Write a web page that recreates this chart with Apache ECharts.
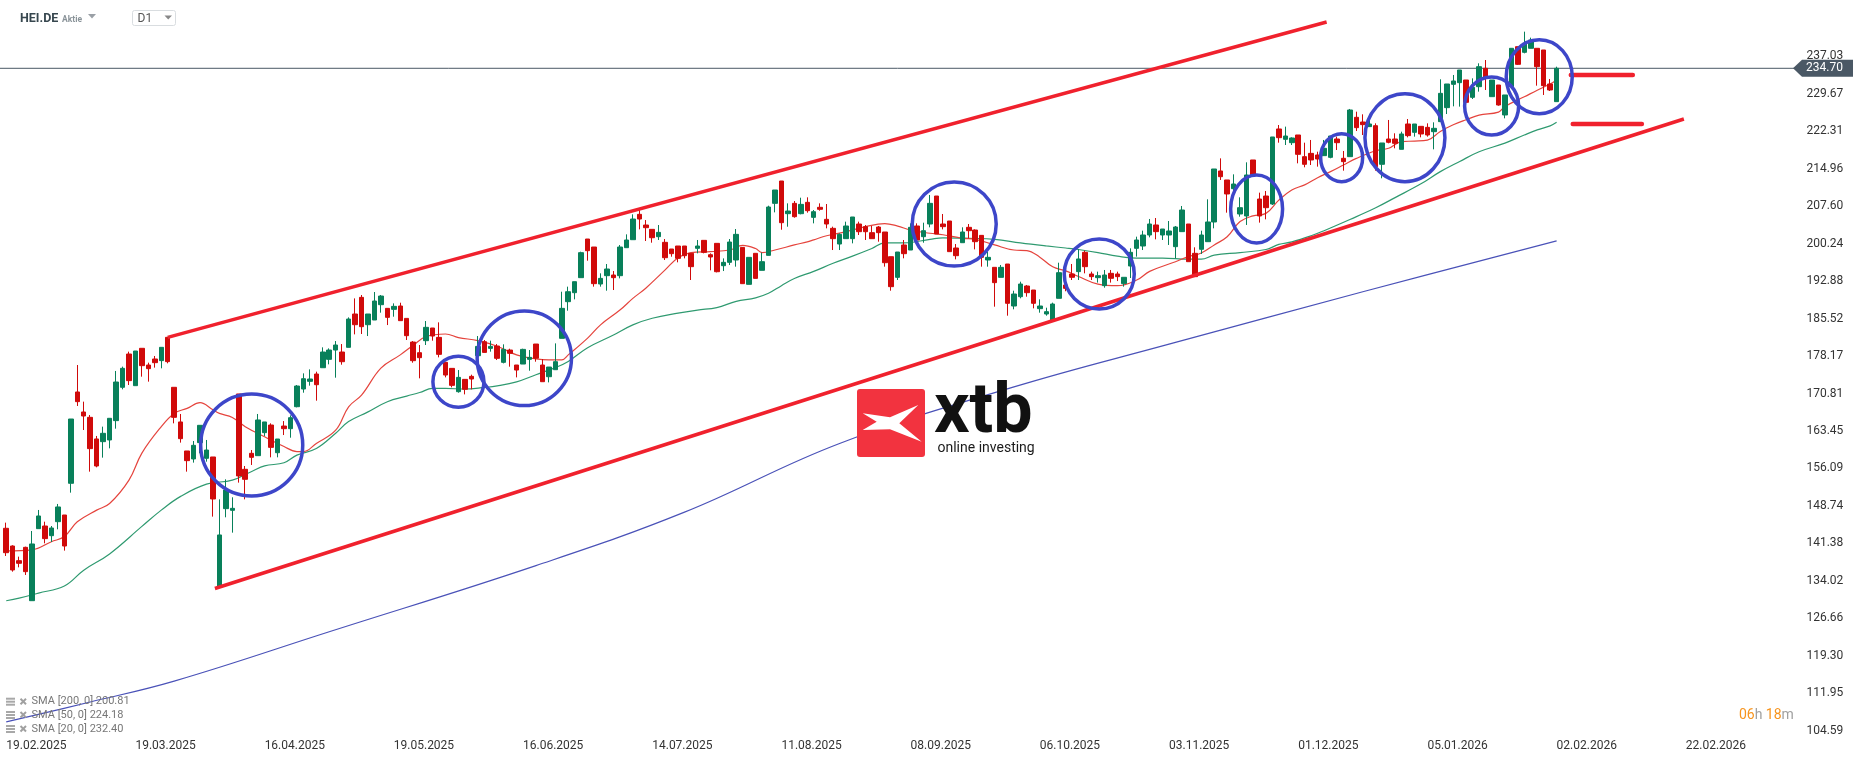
<!DOCTYPE html>
<html><head><meta charset="utf-8">
<script src="https://cdn.jsdelivr.net/npm/echarts@6/dist/echarts.min.js"></script>
<style>html,body{margin:0;padding:0;background:#fff;}#c{width:1866px;height:761px;}</style>
</head><body><div id="c"></div>
<script>
const opens=[144.33,140.85,137.97,140.59,130.11,144.26,144.78,142.88,145.63,146.94,
153.17,171.11,167.18,166.13,161.88,161.35,161.68,165.48,172.03,178.57,
172.35,179.69,176.41,177.59,177.27,181.85,172.03,165.22,159.52,157.95,
161.16,158.08,158.34,132.86,148.19,147.86,170.72,155.92,159.06,158.60,
163.12,164.62,159.18,164.42,163.90,168.22,171.69,173.20,174.64,175.88,
177.52,179.35,178.96,179.88,186.43,189.70,184.33,185.25,188.26,187.54,
187.34,188.00,185.57,180.92,178.83,181.19,183.68,181.84,176.93,175.75,
171.17,173.59,174.18,178.24,180.99,179.68,180.14,176.93,179.35,176.41,
176.60,177.52,180.53,176.41,174.11,175.49,181.65,188.85,190.62,193.57,
201.16,199.59,192.32,193.96,194.09,193.96,199.46,201.03,206.01,203.91,
203.06,201.62,200.51,199.20,199.79,199.79,198.35,199.33,200.90,198.08,
200.31,195.92,196.58,197.04,199.52,192.26,198.35,195.01,197.95,208.17,
212.56,206.14,208.17,206.14,208.37,205.42,207.39,205.03,203.26,200.18,
201.23,201.23,204.11,203.59,202.41,203.52,202.54,197.69,193.63,199.99,
199.00,203.72,201.62,204.11,209.61,204.11,204.70,199.40,200.44,203.46,
202.93,201.88,197.04,195.60,193.63,196.25,188.00,189.83,191.93,191.14,
187.48,186.43,185.25,189.51,192.13,194.29,194.75,198.55,194.29,193.57,
192.00,194.42,194.29,192.40,195.86,199.33,199.79,201.95,203.92,201.95,
201.95,199.66,202.61,204.11,198.35,199.14,200.64,204.51,214.53,212.76,
211.05,206.08,205.69,216.69,209.02,209.61,208.04,222.78,220.75,220.09,
221.60,217.34,217.99,217.67,217.54,217.21,220.81,217.02,217.34,225.07,
224.15,223.24,223.43,215.84,220.81,220.81,218.78,223.76,222.12,223.30,
223.10,222.25,224.22,226.97,231.55,231.88,232.40,229.00,231.09,234.70,
229.13,231.42,225.53,231.09,238.95,237.84,238.63,238.63,238.30,231.62,
228.15];
const highs=[145.44,140.99,138.76,140.72,143.80,147.93,145.63,144.78,149.11,146.94,
165.80,176.41,169.21,166.59,162.47,164.30,165.94,175.24,176.09,179.03,
179.16,179.69,176.87,178.18,179.88,181.85,172.03,166.79,159.52,161.48,
164.56,161.68,158.34,150.02,153.95,150.42,170.72,156.57,159.71,166.79,
165.22,164.95,161.87,165.40,166.52,172.48,174.77,175.55,175.10,179.88,
179.68,181.12,180.53,185.77,189.50,190.16,186.43,190.75,190.16,187.54,
188.52,188.65,185.57,181.12,180.34,185.05,183.68,184.79,176.93,175.75,
175.42,173.59,174.51,182.10,181.32,181.19,180.53,180.47,179.61,176.41,
179.61,179.35,180.53,177.59,176.01,180.66,190.81,191.80,192.78,198.67,
201.16,199.59,194.42,196.25,194.87,199.98,202.08,206.01,206.86,204.89,
203.06,203.91,201.16,199.20,199.79,199.79,198.35,200.97,200.90,198.35,
200.31,197.36,201.16,203.13,199.52,197.56,198.35,198.48,207.71,210.79,
212.56,208.17,208.63,209.28,209.35,206.86,208.17,208.04,203.59,202.28,
204.57,205.49,204.57,203.91,203.72,203.72,202.54,197.69,198.61,200.97,
204.24,204.24,204.37,209.81,209.61,206.08,204.70,200.18,203.46,204.11,
203.06,201.88,198.68,195.60,196.06,196.25,191.01,192.78,192.13,191.14,
189.31,187.67,188.66,196.51,192.80,196.26,199.14,198.87,194.75,194.75,
195.08,195.08,194.75,193.64,199.33,201.62,202.80,205.10,205.29,203.13,
204.70,203.72,207.65,204.11,199.53,202.80,208.96,214.92,217.01,212.76,
213.87,209.35,216.23,216.69,210.27,210.60,221.21,223.56,223.24,221.14,
221.60,220.09,220.62,218.32,220.62,221.40,221.27,218.46,226.71,226.18,
225.66,225.66,223.89,220.03,224.55,221.93,222.25,224.74,223.76,223.30,
223.89,224.09,232.54,231.62,233.39,234.37,232.40,232.73,235.68,236.33,
232.40,231.42,229.46,238.63,238.95,241.90,240.72,238.63,238.30,232.60,
235.02];
const lows=[138.89,135.81,136.66,135.16,130.11,144.26,141.38,141.64,144.13,139.94,
151.33,168.36,163.64,155.46,156.31,158.21,160.04,163.90,171.63,172.48,
172.35,174.12,173.14,175.89,175.76,176.74,164.95,161.16,155.46,157.23,
159.06,157.42,146.62,132.86,146.49,143.47,153.30,150.02,156.77,158.60,
162.47,158.27,158.27,162.65,162.13,168.09,170.97,172.35,169.40,175.88,
176.54,173.92,176.47,179.88,182.43,182.50,182.10,185.25,186.69,184.26,
185.90,185.12,181.32,176.86,173.79,180.34,181.19,177.91,173.98,172.02,
170.97,170.64,171.63,178.24,178.89,179.03,177.39,176.73,176.08,173.98,
176.60,175.29,177.06,173.13,173.00,175.49,181.65,187.08,189.31,193.57,
196.90,191.80,191.80,191.01,191.14,193.43,199.46,201.03,203.06,200.77,
200.44,200.97,197.04,197.69,196.58,197.36,193.11,198.35,198.35,195.01,
194.61,194.87,196.05,195.73,192.39,192.26,193.43,195.01,197.95,206.40,
202.99,203.58,205.35,206.01,206.34,204.24,206.73,203.26,199.00,199.00,
201.23,200.31,201.95,200.97,201.23,200.64,195.73,191.01,193.11,197.37,
199.00,200.97,200.44,203.46,202.15,203.06,198.68,197.17,200.44,201.29,
199.13,195.73,195.73,187.87,193.63,186.10,187.35,189.51,189.83,187.54,
186.69,186.10,185.12,189.51,190.90,193.11,193.11,194.42,193.11,192.60,
191.60,192.60,192.90,191.80,193.50,197.70,199.00,201.49,201.10,200.97,
199.99,197.37,202.61,196.71,193.77,198.22,200.64,203.26,212.76,206.34,
210.47,205.55,203.92,213.67,204.38,205.03,207.85,220.09,219.63,219.63,
216.03,215.25,215.70,215.38,217.54,217.02,218.65,214.59,217.34,222.38,
221.60,223.24,214.59,213.09,219.96,218.98,218.78,221.14,221.27,221.14,
221.27,218.78,224.22,225.72,227.23,227.17,228.02,228.67,230.11,230.44,
229.13,227.36,224.87,230.77,235.35,237.64,238.63,231.29,229.46,230.24,
228.15];
const closes=[139.54,136.14,137.45,135.81,141.25,146.75,142.30,144.39,148.52,140.85,
165.80,169.21,166.39,159.98,156.57,162.99,165.94,173.07,175.76,173.34,
179.16,176.28,175.69,176.87,179.88,177.07,166.13,161.94,157.62,160.63,
164.56,159.71,150.09,143.02,151.85,148.25,154.61,153.95,158.27,165.61,
165.22,160.23,161.87,163.90,166.06,172.28,173.72,173.66,172.54,178.96,
179.35,180.34,177.06,185.44,184.33,183.94,186.43,188.98,189.96,185.77,
187.93,185.12,182.17,177.26,177.85,183.81,182.10,178.50,174.44,172.41,
173.98,171.63,173.66,180.07,178.89,180.07,177.72,179.48,178.70,175.42,
179.48,177.91,177.75,173.13,176.01,177.06,187.54,190.81,192.78,198.48,
198.87,192.39,193.43,195.27,193.57,199.59,200.97,205.09,205.09,203.39,
201.42,202.47,197.49,198.28,197.36,197.89,195.73,199.79,198.54,197.63,
194.74,196.58,200.57,202.08,192.39,197.56,193.43,196.71,207.45,210.79,
204.37,206.66,205.55,207.97,206.73,206.53,207.00,204.11,201.23,202.08,
203.72,205.49,202.60,202.60,201.23,202.41,196.51,191.80,198.61,198.28,
203.46,200.97,202.80,208.17,202.15,203.59,198.68,197.89,202.54,202.80,
200.64,197.56,197.56,192.59,195.60,188.53,190.36,192.32,190.62,188.53,
188.00,186.89,188.39,194.55,191.47,193.64,197.24,195.73,193.77,193.96,
194.09,193.44,193.77,193.64,198.55,200.97,201.95,204.11,202.61,203.13,
202.74,203.52,206.86,196.71,193.77,201.95,204.51,214.92,213.41,210.01,
211.97,207.32,213.74,213.67,205.69,207.32,221.21,221.07,221.40,221.01,
217.80,215.84,216.69,216.88,218.98,221.40,220.09,216.36,226.51,223.04,
223.63,223.76,215.38,220.03,220.16,219.96,221.80,221.47,223.76,221.80,
221.60,222.91,229.78,231.62,232.21,234.37,228.02,230.96,235.02,232.93,
232.40,227.49,229.46,238.63,235.48,239.61,240.26,235.02,231.29,230.44,
234.70];

const sma20=[[0,139.9],[4,140.1],[7,141.7],[9,142.7],[11,145.6],[14,147.9],[16,149.2],[19,153.8],[21,159.1],[24,164.3],[26,166.9],[28,167.9],[30,169.0],[32,167.6],[33,166.9],[35,166.1],[37,164.3],[40,162.3],[43,160.4],[45,159.4],[46,159.4],[48,161.0],[51,163.6],[53,168.2],[55,170.5],[58,175.8],[61,178.4],[63,180.3],[65,182.0],[68,182.5],[70,181.8],[73,181.2],[76,180.1],[79,178.4],[82,177.6],[84,177.4],[86,177.4],[87,178.4],[90,181.7],[92,184.3],[95,187.2],[97,189.5],[99,191.5],[102,195.1],[104,197.5],[106,198.5],[109,198.7],[112,199.0],[114,199.9],[116,199.3],[117,198.5],[119,199.0],[122,200.0],[124,200.6],[125,201.0],[127,201.8],[130,202.6],[133,203.6],[136,204.2],[138,203.7],[140,202.9],[143,202.3],[145,202.0],[148,201.3],[150,201.1],[153,200.0],[156,199.0],[158,198.9],[160,197.6],[162,195.7],[164,194.9],[166,193.8],[169,192.3],[172,192.0],[175,193.1],[177,194.8],[181,196.7],[183,197.7],[185,198.4],[187,200.0],[189,201.6],[191,204.6],[193,205.7],[195,206.2],[197,208.8],[199,210.8],[201,211.8],[203,213.2],[205,214.4],[207,215.7],[209,217.0],[212,218.5],[214,219.0],[216,220.3],[218,220.4],[220,220.6],[222,222.3],[224,223.6],[226,224.6],[228,225.5],[231,226.1],[232,227.2],[235,229.1],[237,230.4],[239,231.6],[240,232.4]];
const sma50=[[0,130.1],[2,130.6],[5,131.6],[9,133.0],[12,136.1],[16,139.3],[21,144.7],[24,147.9],[27,150.6],[31,153.0],[35,153.8],[38,155.5],[40,156.6],[43,157.2],[45,158.7],[48,160.0],[51,163.0],[53,165.3],[56,167.2],[59,169.2],[62,170.3],[64,171.0],[66,171.8],[68,171.8],[71,171.7],[74,172.0],[76,172.3],[79,173.1],[82,174.5],[85,175.9],[87,177.1],[90,179.8],[94,182.3],[97,184.3],[100,185.6],[104,186.6],[107,187.2],[110,187.7],[113,188.9],[116,189.6],[118,190.5],[120,192.0],[122,193.4],[125,194.8],[128,196.4],[131,197.8],[134,199.3],[136,200.4],[139,200.4],[143,201.1],[145,201.4],[149,201.3],[153,201.1],[157,200.4],[161,199.8],[164,199.4],[166,199.1],[169,198.5],[172,197.8],[175,197.4],[179,197.4],[183,197.2],[185,197.2],[187,198.0],[191,198.5],[195,199.1],[197,200.1],[199,200.6],[202,201.8],[204,202.8],[208,205.0],[212,207.3],[215,209.3],[219,212.0],[222,214.4],[225,216.4],[228,218.3],[232,220.0],[235,221.6],[237,222.6],[239,223.4],[240,224.1]];
const sma200=[[0,106.3],[13,110.2],[26,114.3],[50,124.0],[82,137.0],[105,147.5],[129,161.0],[156,172.1],[180,180.5],[210,190.8],[240,200.8]];

const xTickLabels=['19.02.2025','19.03.2025','16.04.2025','19.05.2025','16.06.2025','14.07.2025','11.08.2025','08.09.2025','06.10.2025','03.11.2025','01.12.2025','05.01.2026','02.02.2026','22.02.2026'];
const yTicks=[104.59,111.95,119.30,126.66,134.02,141.38,148.74,156.09,163.45,170.81,178.17,185.52,192.88,200.24,207.60,214.96,222.31,229.67,237.03];
const channelUpper=[[25,181.85],[204.4,243.8]];
const channelLower=[[32.3,132.51],[259.7,224.74]];
const levelMarks=[[242.2,251.8,233.38],[242.5,253.2,223.76]];
const circles=[[38,160.69,7.9,10.0],[70,173.13,3.95,5.0],[80.2,177.73,7.3,9.3],[146.75,204.11,6.5,8.25],[169.2,194.29,5.42,6.88],[193.56,207.06,4.02,6.68],[206.72,217.14,3.25,4.72],[216.52,221.07,6.19,8.64],[229.94,227.29,4.18,5.7],[237.31,233.05,5.11,7.27]];
const lastPrice=234.70;
const legendRows=['SMA [200, 0] 200.81','SMA [50, 0] 224.18','SMA [20, 0] 232.40'];

const N=277, Y_MIN=103.72, Y_MAX=248.12;
const GREEN='#08805a', RED='#d00a0a', CH='#f0212d', BLUE='#3d46c9';
const F='Roboto, sans-serif';

const chart=echarts.init(document.getElementById('c'));
const cats=Array.from({length:N},(_,i)=>String(i));
const candles=opens.map((o,i)=>[o,closes[i],lows[i],highs[i]]);

const lineS=(data,color,width,z,extra)=>Object.assign({type:'line',xAxisIndex:1,yAxisIndex:0,data,symbol:'none',silent:true,z,lineStyle:{color,width}},extra||{});

const series=[
  lineS(sma200,'#4a52b8',1.2,2,{smooth:0.4}),
  lineS(sma50,'#2f9a70',1.2,2,{smooth:0.4}),
  lineS(sma20,'#e5443d',1.2,2,{smooth:0.4}),
  {type:'candlestick',data:candles,barWidth:5,z:3,xAxisIndex:0,yAxisIndex:0,
   itemStyle:{color:GREEN,color0:RED,borderColor:GREEN,borderColor0:RED,borderWidth:1}},
  lineS(channelUpper,CH,3.5,4),
  lineS(channelLower,CH,3.5,4),
  ...levelMarks.map(l=>lineS([[l[0],l[2]],[l[1],l[2]]],CH,4.5,4,{lineStyle:{color:CH,width:4.5,cap:'round'}})),
  {type:'custom',xAxisIndex:1,yAxisIndex:0,data:circles,z:5,silent:true,encode:{x:0,y:1},
   renderItem:(params,api)=>{
     const c=api.coord([api.value(0),api.value(1)]);
     const s=api.size([api.value(2),api.value(3)]);
     return {type:'ellipse',shape:{cx:c[0],cy:c[1],rx:s[0],ry:s[1]},style:{fill:'none',stroke:BLUE,lineWidth:3.5}};
   }}
];

chart.setOption({
  animation:false,
  backgroundColor:'#fff',
  grid:{left:3,right:73.6,top:0,bottom:26,containLabel:false},
  xAxis:[
    {type:'category',data:cats,boundaryGap:true,axisLine:{show:false},axisTick:{show:false},splitLine:{show:false},
     axisLabel:{interval:(i)=>i%20===0&&i/20<xTickLabels.length,formatter:(v,i)=>xTickLabels[Math.round(i/20)]||'',
       align:'left',margin:5,fontSize:12,color:'#333',fontFamily:F}},
    {type:'value',min:-0.5,max:N-0.5,show:false}
  ],
  yAxis:{type:'value',position:'right',min:Y_MIN,max:Y_MAX,axisLine:{show:false},axisTick:{show:false},splitLine:{show:false},
    axisLabel:{customValues:yTicks,formatter:(v)=>v.toFixed(2),margin:14,fontSize:12,color:'#333',fontFamily:F}},
  series
});

const py=chart.convertToPixel({yAxisIndex:0},lastPrice);
const g=[];
g.push({type:'line',z:1,shape:{x1:0,y1:py,x2:1795,y2:py},style:{stroke:'#4a5865',lineWidth:1}});
g.push({type:'polygon',z:100,shape:{points:[[1793,py],[1802,py-8.5],[1853,py-8.5],[1853,py+8.5],[1802,py+8.5]]},style:{fill:'#4a5865'}});
g.push({type:'text',z:101,x:1806,y:py,style:{text:lastPrice.toFixed(2),fill:'#fff',font:'12px '+F,verticalAlign:'middle',align:'left'}});
g.push({type:'text',z:50,x:20,y:18.5,style:{text:'HEI.DE',fill:'#37474f',font:'bold 12.5px '+F,verticalAlign:'middle'}});
g.push({type:'text',z:50,x:62,y:19.5,style:{text:'Aktie',fill:'#8a9399',font:'bold 8.5px '+F,verticalAlign:'middle'}});
g.push({type:'polygon',z:50,shape:{points:[[88,14],[96,14],[92,18.5]]},style:{fill:'#9aa0a6'}});
g.push({type:'rect',z:50,shape:{x:132.5,y:10.5,width:43,height:15,r:2},style:{fill:'#fff',stroke:'#d9dde0',lineWidth:1}});
g.push({type:'text',z:51,x:137.5,y:18.5,style:{text:'D1',fill:'#555',font:'12px '+F,verticalAlign:'middle'}});
g.push({type:'polygon',z:51,shape:{points:[[164.5,15.5],[172,15.5],[168.2,19.5]]},style:{fill:'#888'}});
const ly=[701.7,715,729];
legendRows.forEach((t,k)=>{
  const y=ly[k];
  g.push({type:'rect',z:50,shape:{x:6,y:y-4,width:9,height:2},style:{fill:'#a8a8a8'}});
  g.push({type:'rect',z:50,shape:{x:6,y:y-1,width:9,height:2},style:{fill:'#a8a8a8'}});
  g.push({type:'rect',z:50,shape:{x:6,y:y+2,width:9,height:2},style:{fill:'#a8a8a8'}});
  g.push({type:'line',z:50,shape:{x1:20.5,y1:y-3,x2:26,y2:y+2.5},style:{stroke:'#a0a0a0',lineWidth:2}});
  g.push({type:'line',z:50,shape:{x1:26,y1:y-3,x2:20.5,y2:y+2.5},style:{stroke:'#a0a0a0',lineWidth:2}});
  g.push({type:'text',z:50,x:31.5,y:y,style:{text:t,fill:'#777',font:'11px '+F,verticalAlign:'middle'}});
});
g.push({type:'text',z:50,x:1739,y:715,style:{text:'{o|06}{g|h} {o|18}{g|m}',verticalAlign:'middle',
  rich:{o:{fill:'#f7941d',font:'14px '+F},g:{fill:'#a0a0a0',font:'14px '+F}}}});
g.push({type:'rect',z:60,shape:{x:857,y:389,width:68,height:68,r:3},style:{fill:'#f2333f'}});
g.push({type:'polygon',z:61,shape:{points:[[862.7,413.3],[890,417.3],[918.3,405],[899.3,423.3],[921.7,441.7],[890,429.3],[862.7,430],[876.7,421.7]]},style:{fill:'#fff'}});
g.push({type:'text',z:60,x:934,y:414,style:{text:'xtb',fill:'#111',font:'bold 70px '+F,verticalAlign:'middle'}});
g.push({type:'text',z:60,x:937.5,y:448,style:{text:'online investing',fill:'#1a1a1a',font:'14px '+F,verticalAlign:'middle'}});
chart.setOption({graphic:{elements:g}});
</script></body></html>
